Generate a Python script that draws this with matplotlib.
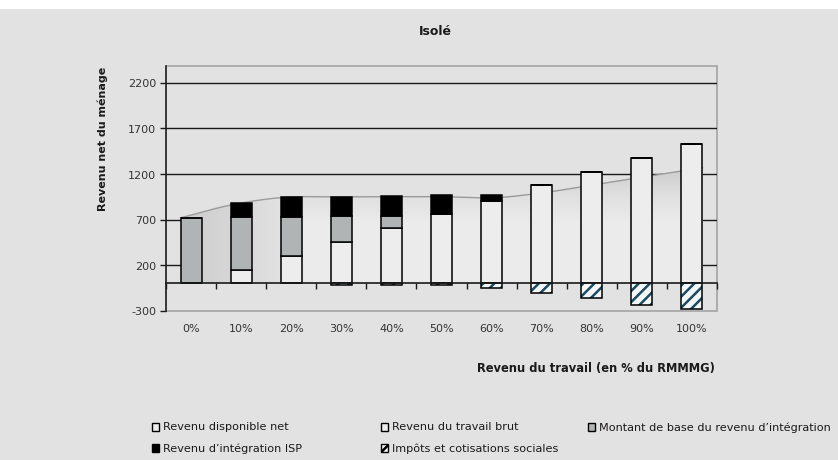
import numpy as np
import matplotlib
matplotlib.use("Agg")
import matplotlib.pyplot as plt
from matplotlib.patches import Rectangle, Polygon

# montants mensuels (en euros) par niveau de revenu du travail
categories = ['0%', '10%', '20%', '30%', '40%', '50%', '60%', '70%', '80%', '90%', '100%']
travail_brut = [0, 145, 305, 455, 605, 760, 910, 1075, 1220, 1375, 1535]
ri_base = [713, 579, 419, 287, 130, 0, 0, 0, 0, 0, 0]
ri_isp = [0, 157, 227, 202, 227, 210, 55, 0, 0, 0, 0]
impots = [0, 0, 0, -15, -15, -15, -50, -105, -160, -232, -285]
disponible_net = [720, 865, 945, 950, 952, 952, 940, 1000, 1090, 1180, 1270]

BG = '#e1e2e1'
LIGHT = '#ecedec'
GREY = '#b1b4b4'
HATCH = '#1c4a63'

plt.rcParams['font.family'] = 'DejaVu Sans'
plt.rcParams['axes.unicode_minus'] = False
plt.rcParams['hatch.linewidth'] = 1.8


def catmull_rom(xs, ys, steps=24):
    # lissage de la courbe comme dans le tableur
    xs = np.asarray(xs, float)
    ys = np.asarray(ys, float)
    px = np.concatenate([[2 * xs[0] - xs[1]], xs, [2 * xs[-1] - xs[-2]]])
    py = np.concatenate([[2 * ys[0] - ys[1]], ys, [2 * ys[-1] - ys[-2]]])
    outx, outy = [], []
    for i in range(1, len(px) - 2):
        t = np.linspace(0, 1, steps, endpoint=False)
        for arr, out in ((px, outx), (py, outy)):
            p0, p1, p2, p3 = arr[i - 1], arr[i], arr[i + 1], arr[i + 2]
            out.extend(0.5 * (2 * p1 + (-p0 + p2) * t
                              + (2 * p0 - 5 * p1 + 4 * p2 - p3) * t ** 2
                              + (-p0 + 3 * p1 - 3 * p2 + p3) * t ** 3))
    outx.append(xs[-1])
    outy.append(ys[-1])
    return np.array(outx), np.array(outy)


fig = plt.figure(figsize=(8.38, 4.605), dpi=100, facecolor=BG)
fig.patches.append(Rectangle((0, 1 - 9 / 460), 1, 9 / 460, transform=fig.transFigure,
                             facecolor='white', edgecolor='none', zorder=0))
ax = fig.add_axes([166 / 838, 1 - 311 / 460, 551 / 838, 245 / 460])
ax.set_facecolor(BG)

n = len(categories)
x = np.arange(n)
bw = 0.42
ax.set_xlim(-0.5, n - 0.5)
ax.set_ylim(-300, 2390)

yticks = [-300, 200, 700, 1200, 1700, 2200]
for v in yticks[1:]:
    ax.axhline(v, color='#1a1a1a', lw=1.0, zorder=0.5)

# zone du revenu disponible net, avec un degrade gris
ax_x = np.linspace(-bw / 2, n - 1 + bw / 2, n)
cx, cy = catmull_rom(ax_x, disponible_net)
ax.fill_between(cx, 0, cy, color='#e6e6e6', lw=0, zorder=0.9)
verts = np.column_stack([np.concatenate([[cx[0]], cx, [cx[-1]]]),
                         np.concatenate([[0], cy, [0]])])
poly = Polygon(verts, closed=True, facecolor='none', edgecolor='none')
ax.add_patch(poly)
gx = np.linspace(cx[0], cx[-1], 400)
gy = np.linspace(0, max(cy), 200)
GX, GY = np.meshgrid(gx, gy)
v_left = np.interp(GX, [-0.2, 0.5, 1.5, 2.3], [0.80, 0.83, 0.87, 0.925])
v_top = np.interp(GY, [0, 600, 950, 1270], [0.94, 0.93, 0.88, 0.80])
shade = np.minimum(v_left, v_top)
img = ax.imshow(np.dstack([shade, shade, shade, np.ones_like(shade)]),
                extent=(gx[0], gx[-1], 0, gy[-1]), origin='lower', aspect='auto',
                interpolation='bilinear', zorder=1.2)
img.set_clip_path(poly)
ax.plot(cx, cy, color='#9b9b9b', lw=1.0, zorder=1.5)

edge = dict(edgecolor='black', linewidth=1.1, zorder=2)
ax.bar(x, travail_brut, bw, color=LIGHT, **edge)
ax.bar(x, ri_base, bw, bottom=travail_brut, color=GREY, **edge)
bottom_isp = np.array(travail_brut) + np.array(ri_base)
ax.bar(x, ri_isp, bw, bottom=bottom_isp, color='black', **edge)
# impots : hachures bleues puis contour noir
ax.bar(x, impots, bw, color='#f4f8f8', hatch='///', edgecolor=HATCH, linewidth=0, zorder=2)
ax.bar(x, impots, bw, fill=False, edgecolor='black', linewidth=1.1, zorder=2.1)

# cadre gris de la zone de trace
ax.add_patch(Rectangle((0, 0), 1, 1, transform=ax.transAxes, fill=False,
                       edgecolor='#a3a3a3', lw=1.2, zorder=0.4, clip_on=False))
for s in ['top', 'right']:
    ax.spines[s].set_visible(False)
ax.spines['left'].set_color('#1a1a1a')
ax.spines['left'].set_linewidth(1.1)
ax.spines['bottom'].set_position(('data', 0))
ax.spines['bottom'].set_color('#1a1a1a')
ax.spines['bottom'].set_linewidth(1.2)
ax.spines['bottom'].set_zorder(3)

ax.set_yticks(yticks)
ax.tick_params(axis='y', length=4, width=1, color='#1a1a1a', labelsize=8,
               labelcolor='#333333', pad=3)
ax.set_xticks(x)
ax.set_xticklabels(categories)
ax.set_xticks(np.arange(-0.5, n, 1), minor=True)
ax.tick_params(axis='x', which='major', length=0, pad=29, labelsize=8, labelcolor='#333333')
ax.tick_params(axis='x', which='minor', length=4, width=1, color='#1a1a1a', direction='out')

fig.text(435 / 838, 1 - 31 / 460, 'Isolé', ha='center', va='center',
         fontsize=9, fontweight='bold', color='#1a1a1a')
fig.text(103 / 838, 1 - 139 / 460, 'Revenu net du ménage', rotation=90,
         ha='center', va='center', fontsize=8, fontweight='bold', color='#1a1a1a')
fig.text(715 / 838, 1 - 368 / 460, 'Revenu du travail (en % du RMMMG)', ha='right',
         va='center', fontsize=8.3, fontweight='bold', color='#1a1a1a')

# legende
legend_items = [
    ('Revenu disponible net', LIGHT, None, 152, 427),
    ('Revenu du travail brut', LIGHT, None, 381, 427),
    ('Montant de base du revenu d\u2019intégration', GREY, None, 588, 427),
    ('Revenu d\u2019intégration ISP', 'black', None, 152, 448),
    ('Impôts et cotisations sociales', '#f4f8f8', '///', 381, 448),
]
for label, col, hatch, px, py in legend_items:
    fig.patches.append(Rectangle((px / 838, 1 - (py + 4) / 460), 7 / 838, 8 / 460,
                                 transform=fig.transFigure, facecolor=col,
                                 edgecolor='black', lw=1.0, hatch=hatch))
    fig.text((px + 11) / 838, 1 - py / 460, label, ha='left', va='center',
             fontsize=8.1, color='#1a1a1a')

fig.savefig('out.png', dpi=100, facecolor=BG)
